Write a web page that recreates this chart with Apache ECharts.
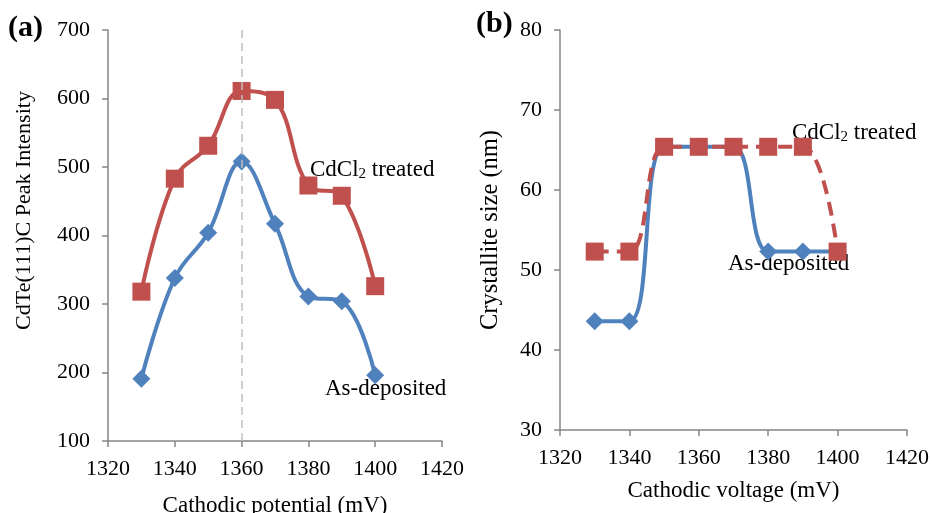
<!DOCTYPE html>
<html>
<head>
<meta charset="utf-8">
<script src="https://cdn.jsdelivr.net/npm/echarts@6/dist/echarts.min.js"></script>
<style>
  html, body { margin: 0; padding: 0; background: #fff; }
  #chart { width: 932px; height: 513px; }
</style>
</head>
<body>
<div id="chart"></div>
<script>
// cathodic potential (mV)
const potentials = [1330, 1340, 1350, 1360, 1370, 1380, 1390, 1400]
// (a) CdTe(111)C peak intensity
const intensityAsDep = [191, 338, 404, 508, 417, 311, 304, 196]
const intensityCdCl2 = [318, 483, 531, 611, 598, 473, 458, 326]
// (b) crystallite size (nm)
const sizeAsDep = [43.6, 43.6, 65.4, 65.4, 65.4, 52.3, 52.3, 52.3]
const sizeCdCl2 = [52.3, 52.3, 65.4, 65.4, 65.4, 65.4, 65.4, 52.3]
const peakLine = 1360

const blue = '#4f81bd'
const red = '#c0504d'
const axisGrey = '#868686'
const font = 'Liberation Serif'

const pairs = ys => potentials.map((x, i) => [x, ys[i]])

function xAxisOf (grid, name, gap) {
  return {
    type: 'value',
    gridIndex: grid,
    min: 1320,
    max: 1420,
    interval: 20,
    name: name,
    nameLocation: 'middle',
    nameGap: gap,
    nameTextStyle: { fontFamily: font, fontSize: 23, color: '#000' },
    axisLine: { lineStyle: { color: axisGrey, width: 1.5 } },
    axisTick: { show: true, length: 6, lineStyle: { color: axisGrey, width: 1.5 } },
    axisLabel: { fontFamily: font, fontSize: 22, color: '#000', margin: 17, formatter: v => String(v) },
    splitLine: { show: false }
  }
}

function yAxisOf (grid, min, max, interval, name, gap, size, pad) {
  return {
    type: 'value',
    gridIndex: grid,
    min: min,
    max: max,
    interval: interval,
    name: name,
    nameLocation: 'middle',
    nameGap: gap,
    nameRotate: 90,
    nameTextStyle: { fontFamily: font, fontSize: size, color: '#000', padding: pad },
    axisLine: { show: true, lineStyle: { color: axisGrey, width: 1.5 } },
    axisTick: { show: true, length: 6, lineStyle: { color: axisGrey, width: 1.5 } },
    axisLabel: { fontFamily: font, fontSize: 22, color: '#000', margin: 18 },
    splitLine: { show: false }
  }
}

function lineOf (grid, data, color, symbol, size, dashed) {
  return {
    type: 'line',
    xAxisIndex: grid,
    yAxisIndex: grid,
    data: pairs(data),
    smooth: 0.4,
    symbol: symbol,
    symbolSize: size,
    itemStyle: { color: color },
    lineStyle: { color: color, width: 4, type: dashed ? [14, 8] : 'solid' },
    animation: false
  }
}

const chart = echarts.init(document.getElementById('chart'))

const labelStyle = {
  fontFamily: font,
  fontSize: 23,
  fill: '#000'
}
const subRich = {
  sub: { fontFamily: font, fontSize: 15, verticalAlign: 'bottom', padding: [10, 0, 0, 0] }
}

chart.setOption({
  backgroundColor: '#fff',
  grid: [
    { left: 108, top: 30, width: 334, height: 411, outerBoundsMode: 'none', containLabel: false },
    { left: 560, top: 30, width: 347, height: 400, outerBoundsMode: 'none', containLabel: false }
  ],
  xAxis: [
    xAxisOf(0, 'Cathodic potential (mV)', 53),
    xAxisOf(1, 'Cathodic voltage (mV)', 49)
  ],
  yAxis: [
    yAxisOf(0, 100, 700, 100, 'CdTe(111)C Peak Intensity', 73, 22, [0, 0, 0, 50]),
    yAxisOf(1, 30, 80, 10, 'Crystallite size (nm)', 57, 24.5, [0, 0, 0, 0])
  ],
  series: [
    Object.assign(lineOf(0, intensityCdCl2, red, 'rect', 18, false), {
      markLine: {
        silent: true,
        symbol: 'none',
        label: { show: false },
        lineStyle: { color: '#bfbfbf', type: [8, 5], width: 1.5 },
        data: [{ xAxis: peakLine }]
      }
    }),
    lineOf(0, intensityAsDep, blue, 'diamond', 18, false),
    lineOf(1, sizeAsDep, blue, 'diamond', 18, false),
    lineOf(1, sizeCdCl2, red, 'rect', 18, true)
  ],
  graphic: [
    { type: 'text', left: 8, top: 13, style: { text: '(a)', fontFamily: font, fontSize: 30, fontWeight: 'bold', fill: '#000' } },
    { type: 'text', left: 476, top: 9, style: { text: '(b)', fontFamily: font, fontSize: 30, fontWeight: 'bold', fill: '#000' } },
    { type: 'text', left: 310, top: 158, style: Object.assign({ text: 'CdCl{sub|2} treated', rich: subRich }, labelStyle) },
    { type: 'text', left: 325, top: 377, style: Object.assign({ text: 'As-deposited' }, labelStyle) },
    { type: 'text', left: 792, top: 121, style: Object.assign({ text: 'CdCl{sub|2} treated', rich: subRich }, labelStyle) },
    { type: 'text', left: 728, top: 252, style: Object.assign({ text: 'As-deposited' }, labelStyle) }
  ]
})
</script>
</body>
</html>
